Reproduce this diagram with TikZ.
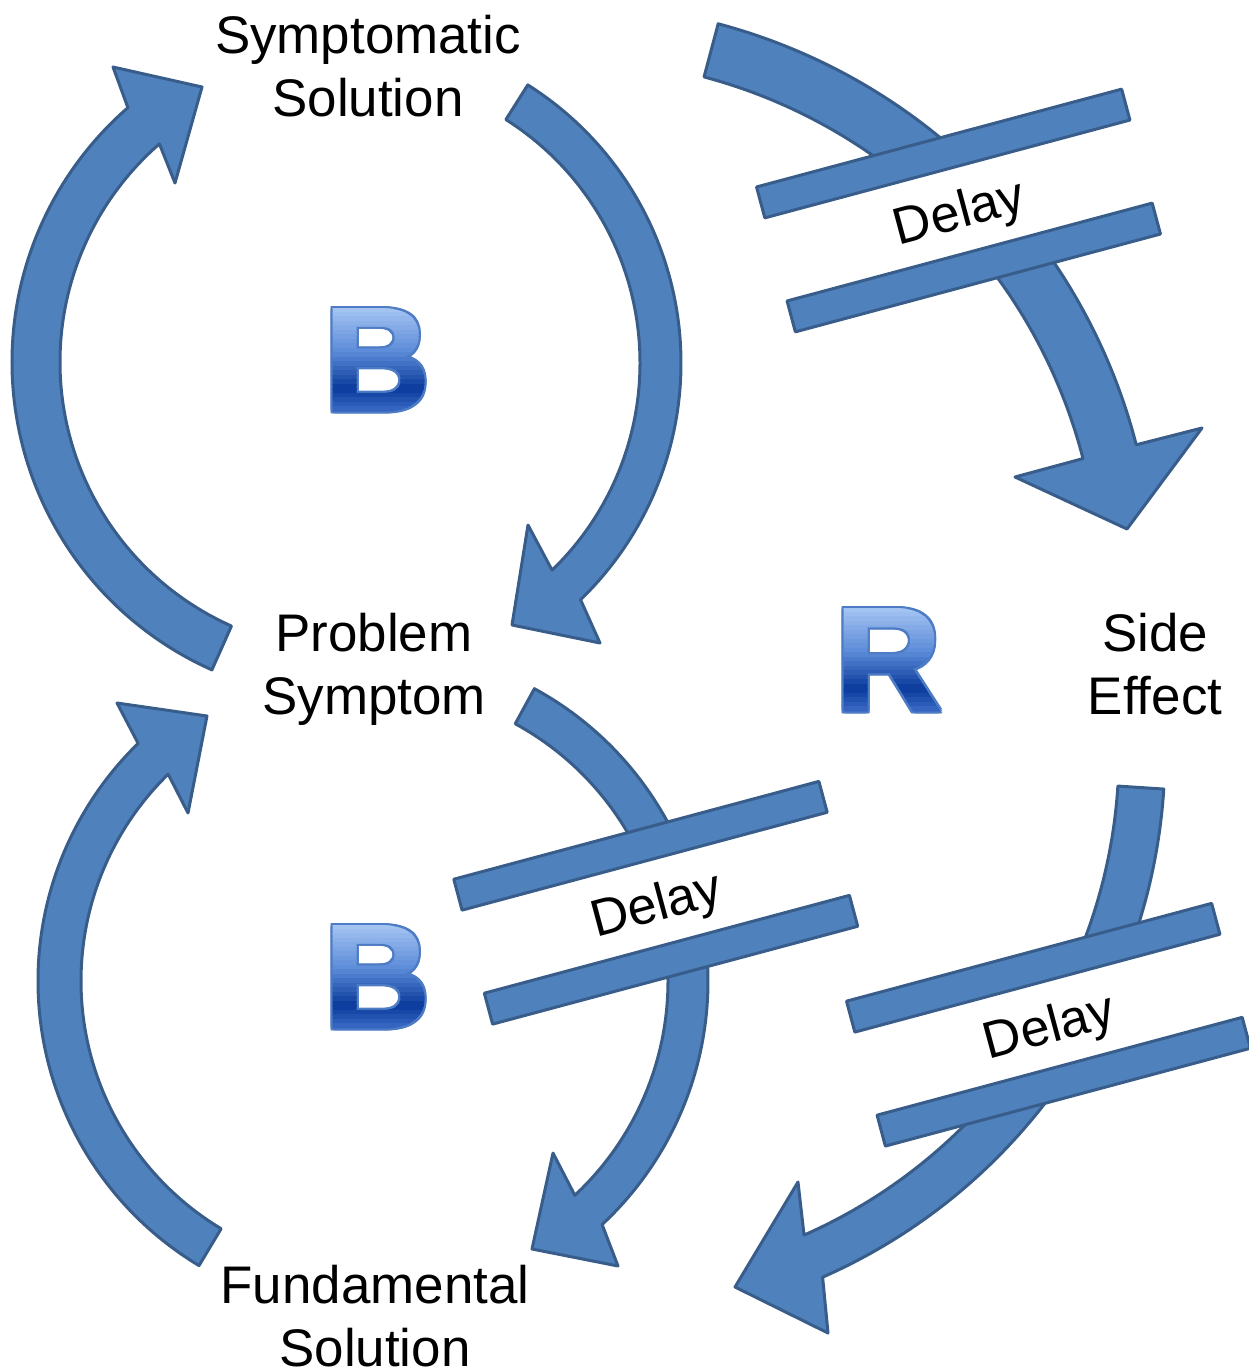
\documentclass[tikz,border=0pt]{standalone}
\usepackage{fontspec}
\setmainfont{Liberation Sans}
\newfontfamily\heavyfont{Liberation Sans Bold}[FakeBold=2]
\usetikzlibrary{calc}
\definecolor{afill}{HTML}{4F81BD}
\definecolor{aline}{HTML}{385D8A}
\definecolor{lout}{RGB}{78,124,196}
\tikzset{
  barrow/.style={fill=afill,draw=aline,line width=3pt,line join=round},
  delaybar/.style={fill=afill,draw=aline,line width=3pt,line join=round},
  lbl/.style={anchor=base,inner sep=0pt,font=\fontsize{52.9}{63}\selectfont},
  dly/.style={anchor=base,inner sep=0pt,rotate=15,font=\fontsize{52}{58}\selectfont},
  bigl/.style={anchor=base,inner sep=0pt,font=\fontsize{146}{150}\selectfont\heavyfont},
}
% curved block arrow: center, inner r, outer r, tail angle, head angle, outer barb, tip, inner barb
\newcommand\carrow[8]{%
  \draw[barrow] ($(#1)+(#4:#3)$) arc[start angle=#4,end angle=#5,radius=#3]
    -- (#6) -- (#7) -- (#8) -- ($(#1)+(#5:#2)$)
    arc[start angle=#5,end angle=#4,radius=#2] -- cycle;}
% delay symbol: name, x, y (pixels)
\newcommand\delayunit[3]{%
  \begin{scope}[shift={(#2,-#3)},rotate=15]
    \fill[white] (-189,-44) rectangle (189,44);
    \draw[delaybar] (-189,43) rectangle (189,75);
    \draw[delaybar] (-189,-75) rectangle (189,-43);
    \node[dly] (#1) at (0,-18) {Delay};
  \end{scope}}
% gradient letter: x center, top y, letter, name
\newcommand\gradletter[4]{%
  \foreach \k/\l in {-1/-1,-1/0,-1/1,0/-1,0/1,1/-1,1/0,1/1}{
    \node[bigl,text=lout] at ({#1+2*\k},{-(#2+105)+2*\l}) {#3};}
  \foreach \i in {0,...,25}{
    \pgfmathsetmacro\t{max(0,min(1,(4.5*(\i+0.5)-6)/105))}
    \pgfmathsetmacro\rr{int(\t<0.45 ? 172-80*\t/0.45 : (\t<0.8 ? 92-82*(\t-0.45)/0.35 : 10+45*(\t-0.8)/0.2))}
    \pgfmathsetmacro\gg{int(\t<0.45 ? 202-62*\t/0.45 : (\t<0.8 ? 140-82*(\t-0.45)/0.35 : 58+45*(\t-0.8)/0.2))}
    \pgfmathsetmacro\bb{int(\t<0.45 ? 245-28*\t/0.45 : (\t<0.8 ? 217-62*(\t-0.45)/0.35 : 155+40*(\t-0.8)/0.2))}
    \definecolor{strip}{RGB}{\rr,\gg,\bb}
    \begin{scope}
      \clip ({#1-90},{-(#2-6+4.5*\i)+0.4}) rectangle ({#1+90},{-(#2-6+4.5*(\i+1))-0.4});
      \node[bigl,text=strip] at (#1,{-(#2+105)}) {#3};
    \end{scope}}
  \coordinate (#4) at (#1,{-(#2+52)});}

\begin{document}
\begin{tikzpicture}[x=1pt,y=1pt]
\useasboundingbox (0,0) rectangle (1248,-1368);

% labels
\node[lbl] (ss) at (368,-53) {\begin{tabular}[t]{@{}c@{}}Symptomatic\\Solution\end{tabular}};
\node[lbl] (ps) at (374,-651) {\begin{tabular}[t]{@{}c@{}}Problem\\Symptom\end{tabular}};
\node[lbl] (se) at (1155,-651) {\begin{tabular}[t]{@{}c@{}}Side\\Effect\end{tabular}};
\node[lbl] (fs) at (375,-1303) {\begin{tabular}[t]{@{}c@{}}Fundamental\\Solution\end{tabular}};

% curved arrows
\carrow{349,-362}{289}{337}{246}{131}{113,-67}{202,-87}{175,-183}
\carrow{352,-363}{288}{329}{57.7}{-46}{600,-643}{512,-625}{528,-525}
\carrow{370,-981}{289}{332}{239}{134.3}{117,-703}{207,-716}{188,-813}
\carrow{375,-981}{293}{333}{61.4}{-47}{618,-1266}{532,-1249}{553,-1153}
\carrow{567,-592}{533}{588}{75.1}{14.5}{1202,-428}{1127,-529}{1015,-477}
\carrow{591,-752}{528}{574}{-3.7}{-66.2}{828,-1333}{735,-1287}{798,-1182}

% delays
\delayunit{d1}{958.5}{210.5}
\delayunit{d2}{655.75}{902.75}
\delayunit{d3}{1048.5}{1024.7}

% loop letters
\gradletter{377}{305}{B}{b1}
\gradletter{377}{922}{B}{b2}
\gradletter{888}{605}{R}{r1}
\end{tikzpicture}
\end{document}
